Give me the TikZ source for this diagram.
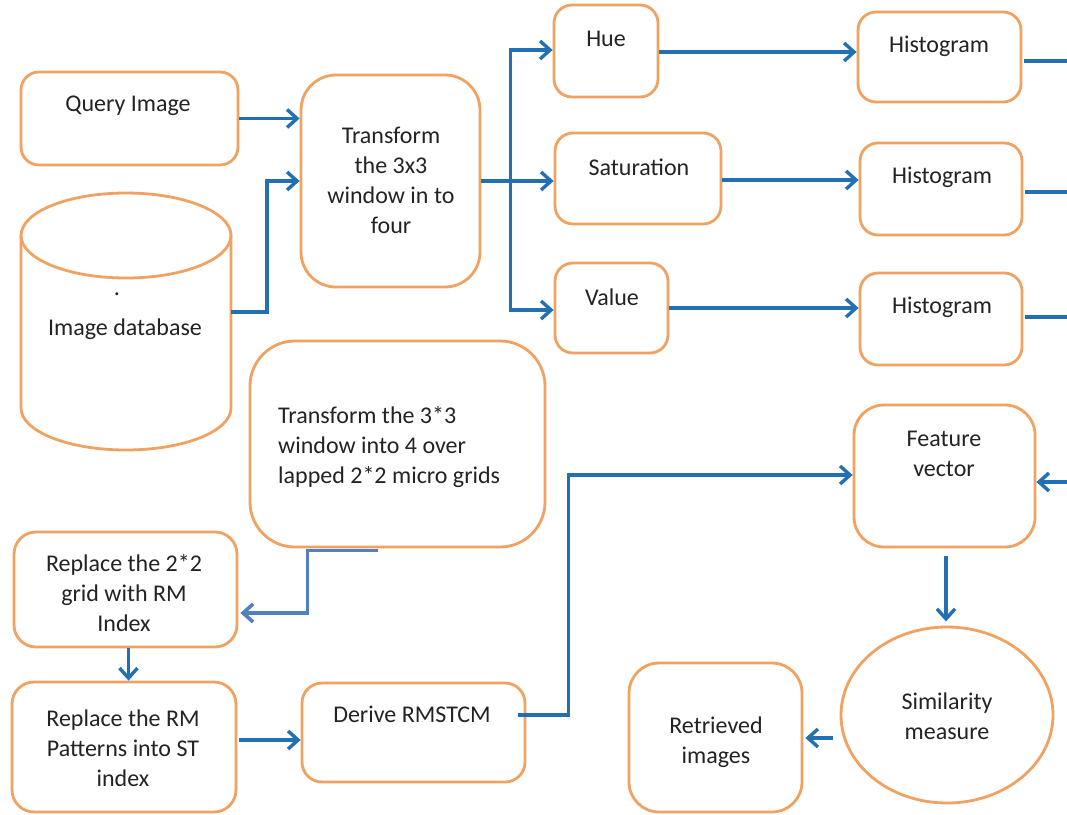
\documentclass[tikz,border=0pt]{standalone}
\usepackage{fontspec}
\setmainfont{Carlito}
\usetikzlibrary{arrows.meta,calc,shapes.geometric}
\definecolor{bord}{RGB}{240,162,98}
\definecolor{flow}{RGB}{34,112,180}
\definecolor{flowlight}{RGB}{82,130,190}
\definecolor{ink}{RGB}{35,35,35}
\begin{document}
\begin{tikzpicture}[x=1pt,y=-1pt,
  bx/.style={draw=bord,line width=2.8pt,rounded corners=#1,inner sep=0pt,fill=white},
  bx/.default=18pt,
  bordline/.style={draw=bord,line width=2.8pt},
  txt/.style={font=\fontsize{24}{30}\selectfont,text=ink,align=center,inner sep=0pt},
  flowline/.style={draw=flow,line width=3.4pt},
  arr/.style={flowline,-{Straight Barb[length=10pt,width=18pt]}},
  arrlight/.style={draw=flowlight,line width=3.6pt,-{Straight Barb[length=10pt,width=18pt]}}]
\useasboundingbox[fill=white] (0,0) rectangle (1067,814);

% boxes
\node[bx,minimum width=217pt,minimum height=93pt] (q) at (129.5,118.5) {};
\node[bx=35pt,minimum width=179pt,minimum height=212pt] (t1) at (390.5,181) {};
\node[bx,minimum width=104pt,minimum height=92pt] (hue) at (606,51) {};
\node[bx,minimum width=166pt,minimum height=91pt] (sat) at (638,178.5) {};
\node[bx,minimum width=113pt,minimum height=90pt] (val) at (611.5,308) {};
\node[bx,minimum width=163pt,minimum height=90pt] (h1) at (939.5,57) {};
\node[bx,minimum width=162pt,minimum height=92pt] (h2) at (941,189) {};
\node[bx,minimum width=162pt,minimum height=92pt] (h3) at (941,319) {};
\node[bx=45pt,minimum width=295pt,minimum height=206pt] (t2) at (397.5,444) {};
\node[bx=22pt,minimum width=223pt,minimum height=115pt] (r1) at (125.5,589.5) {};
\node[bx=22pt,minimum width=224pt,minimum height=130pt] (r2) at (124,747) {};
\node[bx=20pt,minimum width=223pt,minimum height=99pt] (d) at (413.5,732.5) {};
\node[bx=30pt,minimum width=181pt,minimum height=142pt] (fv) at (944.5,476) {};
\node[draw=bord,line width=2.8pt,ellipse,minimum width=212pt,minimum height=176pt,inner sep=0pt] (sm) at (947,715) {};
\node[bx=30pt,minimum width=173pt,minimum height=149pt] (ri) at (715.5,737.5) {};

% database cylinder
\draw[bordline] (126,235.5) ellipse[x radius=105, y radius=42.5];
\draw[bordline] (21,235.5) -- (21,408) arc[start angle=180,end angle=0,x radius=105,y radius=42] -- (231,235.5);
\coordinate (dbout) at (231,312);

% texts
\node[txt] (tq) at (128,106) {Query Image};
\node[txt] (tt1) at (391,180) {Transform\\the 3x3\\window in to\\four};
\node[txt] (tdot) at (117,294) {.};
\node[txt] (tdb) at (125,329) {Image database};
\node[txt] (thue) at (606,39) {Hue};
\node[txt] (tsat) at (639,167) {Saturation};
\node[txt] (tval) at (612,297) {Value};
\node[txt] (th1) at (939,46) {Histogram};
\node[txt] (th2) at (942,177) {Histogram};
\node[txt] (th3) at (942,307) {Histogram};
\node[txt,align=left,anchor=west] (tt2) at (278,447) {Transform the 3*3\\window into 4 over\\lapped 2*2 micro grids};
\node[txt] (tr1) at (124,593) {Replace the 2*2\\grid with RM\\Index};
\node[txt] (tr2) at (123,748) {Replace the RM\\Patterns into ST\\index};
\node[txt] (td) at (412,714) {Derive RMSTCM};
\node[txt] (tfv) at (944,454) {Feature\\vector};
\node[txt] (tsm) at (947,716) {Similarity\\measure};
\node[txt] (tri) at (716,742) {Retrieved\\images};

% connectors
\coordinate (rail) at (1069,0);
\draw[arr] (q.east) -- (q.east -| t1.west);
\draw[arr] (dbout) -- ++(36,0) |- (t1.west);
\draw[flowline] (t1.east) -- ++(29,0) coordinate (br);
\draw[arr] (br) |- ($(hue.west)+(0,-1)$);
\draw[arr] (br) -- (br -| sat.west);
\draw[arr] (br) |- ($(val.west)+(0,2)$);
\draw[arr] ($(hue.east)+(0,1)$) -- ($(hue.east -| h1.west)+(0,1)$);
\draw[arr] ($(sat.east)+(0,1.5)$) -- ($(sat.east -| h2.west)+(0,1.5)$);
\draw[arr] (val.east) -- (val.east -| h3.west);
\draw[flowline] ($(h1.east)+(2,4)$) -- ($(h1.east -| rail)+(0,4)$);
\draw[flowline] ($(h2.east)+(2,3)$) -- ($(h2.east -| rail)+(0,3)$);
\draw[flowline] ($(h3.east)+(2,-2)$) -- ($(h3.east -| rail)+(0,-2)$);
\draw[flowline] ($(h1.east -| rail)+(0,4)$) -- ($(fv.east -| rail)+(0,6)$);
\draw[arr] ($(fv.east -| rail)+(0,6)$) -- ($(fv.east)+(0,6)$);
\draw[arrlight] ($(t2.south)+(-20,2)$) -- ++(-70,0) |- ($(r1.east)+(2,23.5)$);
\draw[arr] ($(r1.south)+(3,0)$) -- ($(r1.south |- r2.north)+(3,0)$);
\draw[arr] ($(r2.east)+(2,-7)$) -- ($(d.west)+(0,7.5)$);
\draw[arr] ($(d.east)+(-8,-17.5)$) -- ++(50,0) |- ($(fv.west)+(0,-1)$);
\draw[arr] ($(fv.south)+(1.5,8)$) -- ++(0,65);
\draw[arr] ($(sm.west)+(-7,23)$) -- ($(ri.east)+(2,0.5)$);
\end{tikzpicture}
\end{document}
